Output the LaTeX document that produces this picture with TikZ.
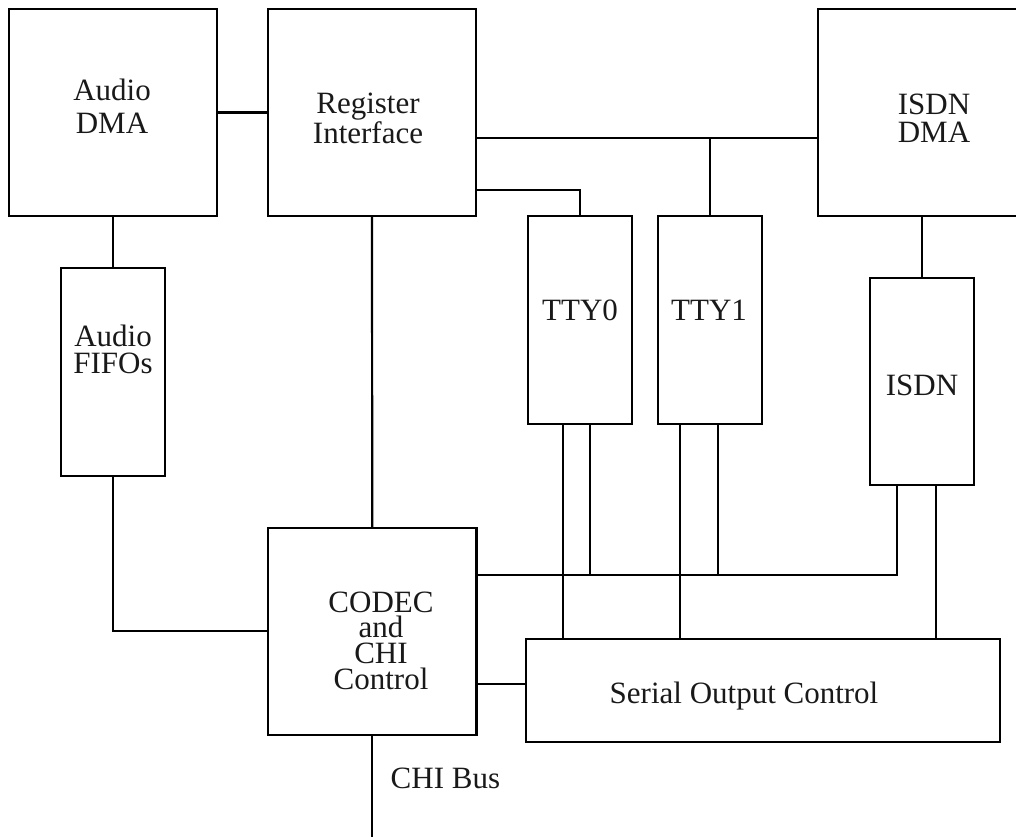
\documentclass[tikz,border=0pt]{standalone}
\usepackage{fontspec}
\setmainfont{Liberation Serif}
\begin{document}
\begin{tikzpicture}[x=1pt,y=-1pt,
  blk/.style={draw, line width=2.2pt, inner sep=0pt, outer sep=0pt},
  wire/.style={line width=2.2pt},
  lbl/.style={inner sep=0pt, outer sep=0pt, align=center, anchor=north, text=black!90}]
\useasboundingbox (0,0) rectangle (1016,837);
\clip (0,0) rectangle (1016,837);
% boxes
\node[blk, minimum width=208pt, minimum height=207pt] (adma) at (113,112.5) {};
\node[blk, minimum width=208pt, minimum height=207pt] (reg) at (372,112.5) {};
\node[blk, minimum width=232pt, minimum height=207pt] (idma) at (934,112.5) {};
\node[blk, minimum width=104pt, minimum height=208pt] (fifo) at (113,372) {};
\node[blk, minimum width=104pt, minimum height=208pt] (tty0) at (580,320) {};
\node[blk, minimum width=104pt, minimum height=208pt] (tty1) at (710,320) {};
\node[blk, minimum width=104pt, minimum height=207pt] (isdn) at (922,381.5) {};
\node[blk, minimum width=208.5pt, minimum height=207pt] (codec) at (372.25,631.5) {};
\node[blk, minimum width=474pt, minimum height=103pt] (serial) at (763,690.5) {};
% labels
\node[lbl, font=\fontsize{31}{33}\selectfont] (tadma) at (112,79) {Audio\\DMA};
\node[lbl, font=\fontsize{31}{24}\selectfont] (treg) at (368,93) {Register\\Interface};
\node[lbl, font=\fontsize{31}{28}\selectfont] (tidma) at (934,94) {ISDN\\DMA};
\node[lbl, font=\fontsize{31}{26.7}\selectfont] (tfifo) at (113,325) {Audio\\FIFOs};
\node[lbl, font=\fontsize{31}{33}\selectfont] (ttty0) at (580,300) {TTY0};
\node[lbl, font=\fontsize{31}{33}\selectfont] (ttty1) at (709,300) {TTY1};
\node[lbl, font=\fontsize{31}{33}\selectfont] (tisdn) at (922,375) {ISDN};
\node[lbl, font=\fontsize{31}{25.7}\selectfont] (tcodec) at (381,591.5) {CODEC\\and\\CHI\\Control};
\node[lbl, font=\fontsize{31}{33}\selectfont] (tserial) at (744,681.5) {Serial Output Control};
\node[lbl, anchor=north west, font=\fontsize{31}{33}\selectfont] (tchi) at (390.7,768) {CHI Bus};
% helper coordinates
\coordinate (busT) at (0,138);
\coordinate (busR) at (0,190);
\coordinate (busM) at (0,575);
\coordinate (cs) at (0,684);
\coordinate (fc) at (0,631);
\coordinate (chiEnd) at (372.25,837);
% connectors
\draw[wire] (adma.east) -- (reg.west);
\draw[wire] (adma.south) -- (fifo.north);
\draw[wire] (fifo.south) |- (codec.west |- fc);
\draw[wire] (reg.south) -- (codec.north);
\draw[wire] (reg.east |- busT) -- (idma.west |- busT);
\draw[wire] (tty1.north |- busT) -- (tty1.north);
\draw[wire] (reg.east |- busR) -| (tty0.north);
\draw[wire] (isdn.north |- idma.south) -- (isdn.north);
\draw[wire] (codec.east |- busM) -| ([xshift=-25pt]isdn.south);
\draw[wire] ([xshift=10pt]tty0.south) -- ([xshift=10pt]tty0.south |- busM);
\draw[wire] ([xshift=8pt]tty1.south) -- ([xshift=8pt]tty1.south |- busM);
\draw[wire] ([xshift=-17pt]tty0.south) -- ([xshift=-17pt]tty0.south |- serial.north);
\draw[wire] ([xshift=-30pt]tty1.south) -- ([xshift=-30pt]tty1.south |- serial.north);
\draw[wire] ([xshift=14pt]isdn.south) -- ([xshift=14pt]isdn.south |- serial.north);
\draw[wire] (codec.east |- cs) -- (serial.west |- cs);
\draw[wire] (codec.south) -- (chiEnd);
\end{tikzpicture}
\end{document}
